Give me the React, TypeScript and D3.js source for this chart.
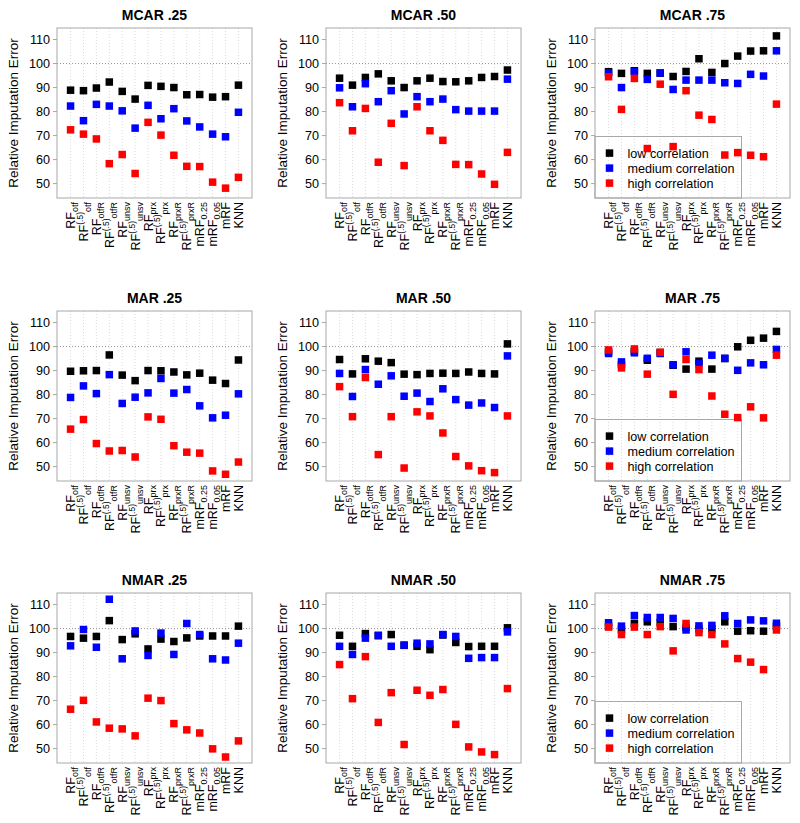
import React from 'react';
import * as d3 from 'd3';

// ---- categories (x tick labels) ----
const catBase = ['RF', 'RF', 'RF', 'RF', 'RF', 'RF', 'RF', 'RF', 'RF', 'RF', 'mRF', 'mRF', 'mRF', 'KNN'];
const catSup = ['', '(.5)', '', '(.5)', '', '(.5)', '', '(.5)', '', '(.5)', '', '', '', ''];
const catSub = ['otf', 'otf', 'otfR', 'otfR', 'unsv', 'unsv', 'prx', 'prx', 'prxR', 'prxR', '0.25', '0.05', '', ''];

const yTicks = [50, 60, 70, 80, 90, 100, 110];
const seriesNames = ['low correlation', 'medium correlation', 'high correlation'];
const panelTitles = ['MCAR .25', 'MCAR .50', 'MCAR .75', 'MAR .25', 'MAR .50', 'MAR .75', 'NMAR .25', 'NMAR .50', 'NMAR .75'];
const legendPanels = [2, 5, 8];

// ---- values ----
const mcar25Low = [88.9, 88.7, 89.8, 92.3, 88.4, 85.2, 90.9, 90.5, 90.0, 87.0, 87.1, 86.0, 86.2, 91.0];
const mcar25Med = [82.3, 76.2, 83.0, 82.3, 80.3, 73.1, 82.6, 77.0, 81.2, 76.1, 73.6, 70.6, 69.5, 79.7];
const mcar25High = [72.4, 70.6, 68.6, 58.3, 62.1, 54.2, 75.5, 70.2, 61.8, 57.2, 57.1, 50.6, 48.1, 52.6];

const mcar50Low = [93.9, 91.0, 94.2, 95.7, 92.8, 90.0, 92.8, 93.9, 92.5, 92.4, 92.8, 94.2, 94.6, 97.3];
const mcar50Med = [89.9, 82.0, 91.6, 84.1, 88.7, 79.0, 86.2, 84.1, 85.2, 80.8, 80.2, 80.2, 80.2, 93.5];
const mcar50High = [83.7, 72.0, 81.3, 58.9, 75.1, 57.5, 82.0, 72.0, 68.0, 58.0, 57.9, 54.0, 49.7, 63.0];

const mcar75Low = [96.6, 95.9, 97.0, 95.9, 96.0, 94.6, 96.7, 102.0, 96.3, 100.0, 103.1, 105.2, 105.3, 111.5];
const mcar75Med = [96.1, 90.0, 96.6, 93.4, 96.1, 89.2, 93.1, 93.1, 93.1, 92.0, 91.7, 95.5, 94.8, 105.3];
const mcar75High = [94.5, 80.9, 93.8, 64.6, 91.4, 65.4, 88.7, 78.5, 76.7, 61.9, 62.9, 61.8, 61.2, 83.1];

const mar25Low = [89.7, 89.9, 90.0, 96.5, 88.1, 85.8, 90.0, 89.9, 89.4, 88.2, 88.9, 86.0, 84.6, 94.4];
const mar25Med = [78.8, 83.6, 80.4, 88.3, 76.3, 78.9, 80.7, 86.7, 80.6, 82.1, 75.3, 70.3, 71.4, 80.3];
const mar25High = [65.6, 69.6, 59.6, 56.5, 56.7, 54.0, 70.7, 69.7, 58.7, 56.0, 55.6, 48.2, 46.8, 51.9];

const mar50Low = [94.6, 88.6, 94.9, 93.9, 93.3, 88.5, 88.3, 88.8, 88.9, 88.8, 89.4, 88.8, 88.6, 101.1];
const mar50Med = [88.8, 79.2, 90.4, 84.3, 87.8, 79.3, 80.6, 77.1, 82.4, 77.9, 75.6, 76.5, 74.6, 96.1];
const mar50High = [83.3, 70.8, 87.1, 55.0, 70.8, 49.4, 72.8, 71.1, 64.0, 54.2, 50.3, 48.3, 47.5, 71.1];

const mar75Low = [97.8, 92.5, 98.0, 94.3, 97.5, 92.2, 90.6, 93.9, 90.6, 95.0, 99.9, 102.6, 103.5, 106.3];
const mar75Med = [97.1, 93.6, 97.4, 95.1, 97.1, 92.4, 97.8, 92.9, 96.4, 95.1, 90.1, 93.2, 92.4, 98.8];
const mar75High = [98.6, 91.1, 99.0, 88.5, 97.6, 80.1, 94.6, 90.4, 79.4, 71.8, 70.4, 74.9, 70.3, 96.4];

const nmar25Low = [96.7, 96.0, 96.7, 103.3, 95.4, 97.8, 91.5, 95.6, 94.6, 96.1, 96.9, 96.9, 96.9, 101.0];
const nmar25Med = [92.8, 99.6, 92.2, 112.2, 87.4, 99.0, 88.8, 98.1, 89.2, 102.1, 97.5, 87.4, 86.9, 93.9];
const nmar25High = [66.4, 70.1, 61.1, 58.5, 58.2, 55.3, 71.0, 70.0, 60.4, 57.8, 56.5, 49.9, 46.5, 53.2];

const nmar50Low = [97.2, 92.6, 97.9, 97.0, 97.5, 93.0, 92.6, 91.2, 97.3, 94.2, 92.5, 92.6, 92.6, 100.3];
const nmar50Med = [92.6, 89.2, 96.0, 97.2, 92.6, 93.1, 93.9, 93.6, 97.5, 96.7, 87.6, 87.9, 87.9, 98.6];
const nmar50High = [85.0, 70.8, 88.3, 60.9, 73.3, 51.7, 74.3, 72.2, 74.6, 60.1, 50.7, 48.6, 47.5, 75.0];

const nmar75Low = [101.0, 99.6, 102.1, 102.8, 102.5, 100.8, 100.5, 99.8, 99.9, 102.8, 98.9, 99.1, 98.9, 101.0];
const nmar75Med = [102.4, 101.0, 105.4, 104.6, 104.6, 104.2, 99.4, 101.1, 101.3, 105.3, 102.1, 103.6, 103.2, 102.2];
const nmar75High = [100.6, 97.5, 100.6, 97.5, 100.8, 90.7, 102.1, 98.3, 97.5, 93.6, 87.5, 86.0, 82.9, 99.4];

const panelSeries = [
  [mcar25Low, mcar25Med, mcar25High],
  [mcar50Low, mcar50Med, mcar50High],
  [mcar75Low, mcar75Med, mcar75High],
  [mar25Low, mar25Med, mar25High],
  [mar50Low, mar50Med, mar50High],
  [mar75Low, mar75Med, mar75High],
  [nmar25Low, nmar25Med, nmar25High],
  [nmar50Low, nmar50Med, nmar50High],
  [nmar75Low, nmar75Med, nmar75High],
];

// ---- layout / style ----
const colors = ['#000000', '#0000ff', '#ff0000'];
const colLefts = [57, 326, 595];
const rowTops = [28, 311, 593];
const boxW = 195;
const boxH = 170;
const font = '"Liberation Sans", Arial, Helvetica, sans-serif';
const sq = 7.5;
const frameColor = '#a8a8a8';

function Panel({ idx }: { idx: number }) {
  const left = colLefts[idx % 3];
  const top = rowTops[Math.floor(idx / 3)];
  const x = d3.scaleLinear().domain([-0.05, 15.05]).range([left, left + boxW]);
  const y = d3.scaleLinear().domain([44.0, 114.8]).range([top + boxH, top]);
  const positions = d3.range(1, 15);
  const series = panelSeries[idx];
  const hasLegend = legendPanels.includes(idx);
  const legH = 61.5;
  const legW = 146.5;
  const bottom = top + boxH;
  return (
    <g>
      {/* vertical grid */}
      {positions.map((p) => (
        <line key={'g' + p} x1={x(p)} x2={x(p)} y1={top} y2={bottom} stroke="#cfcfcf" strokeWidth={0.8} strokeDasharray="1,2" />
      ))}
      {/* reference line at 100 */}
      <line x1={left} x2={left + boxW} y1={y(100)} y2={y(100)} stroke="#8a8a8a" strokeWidth={0.9} strokeDasharray="1,2" />
      {/* frame */}
      <rect x={left} y={top} width={boxW} height={boxH} fill="none" stroke={frameColor} strokeWidth={1} />
      {/* y ticks */}
      {yTicks.map((t) => (
        <g key={'t' + t}>
          <line x1={left - 4} x2={left} y1={y(t)} y2={y(t)} stroke={frameColor} strokeWidth={1} />
          <text x={left - 7} y={y(t)} dy="0.35em" textAnchor="end" fontSize={12.6} fontFamily={font} fill="#000">{t}</text>
        </g>
      ))}
      {/* y title */}
      <text transform={`translate(${left - 39},${top + boxH / 2}) rotate(-90)`} textAnchor="middle" fontSize={13.5} fontFamily={font} fill="#000">Relative Imputation Error</text>
      {/* title */}
      <text x={left + boxW / 2} y={top - 8.3} textAnchor="middle" fontSize={14} fontWeight="bold" fontFamily={font} fill="#000">{panelTitles[idx]}</text>
      {/* x labels */}
      {positions.map((p, i) => (
        <text key={'l' + p} transform={`translate(${x(p)},${bottom + 4}) rotate(-90)`} y={4.5} textAnchor="end" fontSize={12.5} fontFamily={font} fill="#000">
          <tspan>{catBase[i]}</tspan>
          {catSup[i] ? <tspan fontSize={8.5} dy={-5}>{catSup[i]}</tspan> : null}
          {catSub[i] ? <tspan fontSize={9} dy={catSup[i] ? 8 : 3}>{catSub[i]}</tspan> : null}
        </text>
      ))}
      {/* legend */}
      {hasLegend ? (
        <g>
          <rect x={left} y={bottom - legH} width={legW} height={legH} fill="none" stroke={frameColor} strokeWidth={1} />
          {seriesNames.map((n, k) => (
            <g key={'lg' + k}>
              <rect x={left + 14.5 - sq / 2} y={bottom - legH + 16.6 + k * 15 - sq / 2} width={sq} height={sq} fill={colors[k]} />
              <text x={left + 32.5} y={bottom - legH + 16.6 + k * 15} dy="0.35em" fontSize={12.6} fontFamily={font} fill="#000">{n}</text>
            </g>
          ))}
        </g>
      ) : null}
      {/* points */}
      {series.map((vals, k) => (
        <g key={'s' + k}>
          {vals.map((v, i) => (
            <rect key={i} x={x(positions[i]) - sq / 2} y={y(v) - sq / 2} width={sq} height={sq} fill={colors[k]} />
          ))}
        </g>
      ))}
    </g>
  );
}

export default function App() {
  return (
    <svg width={800} height={823} style={{ position: 'absolute', left: 0, top: 0, display: 'block', background: '#fff' }}>
      <rect x={0} y={0} width={800} height={823} fill="#fff" />
      {panelTitles.map((_, i) => (
        <Panel key={i} idx={i} />
      ))}
    </svg>
  );
}
